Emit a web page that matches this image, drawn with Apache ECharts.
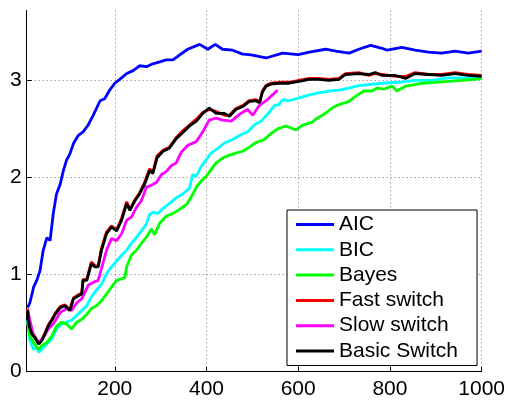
<!DOCTYPE html>
<html>
<head>
<meta charset="utf-8">
<script src="https://cdn.jsdelivr.net/npm/echarts@6/dist/echarts.min.js"></script>
<style>
html,body{margin:0;padding:0;background:#fff;}
#chart{width:508px;height:404px;}
</style>
</head>
<body>
<div id="chart"></div>
<script>
var seriesNames = ['AIC', 'BIC', 'Bayes', 'Fast switch', 'Slow switch', 'Basic Switch'];
var seriesColors = ['#0000ff', '#00ffff', '#00ff00', '#ff0000', '#ff00ff', '#000000'];

var aic = [[10,0.66],[15,0.71],[23,0.87],[30,0.94],[37,1.04],[44,1.25],[52,1.38],[59,1.35],[66,1.63],[73,1.83],[81,1.93],[88,2.07],[95,2.18],[102,2.24],[110,2.35],[120,2.43],[131,2.47],[142,2.54],[153,2.64],[168,2.79],[178,2.81],[189,2.90],[200,2.97],[211,3.01],[226,3.07],[240,3.10],[254,3.15],[269,3.14],[283,3.17],[298,3.19],[312,3.21],[327,3.21],[341,3.26],[359,3.32],[363,3.33],[385,3.37],[403,3.32],[419,3.37],[435,3.32],[457,3.31],[479,3.27],[493,3.265],[500,3.26],[530,3.23],[566,3.28],[600,3.265],[624,3.29],[660,3.32],[682,3.30],[711,3.28],[732,3.32],[758,3.36],[783,3.33],[794,3.31],[826,3.34],[855,3.31],[884,3.29],[913,3.28],[942,3.30],[971,3.28],[1000,3.30]];

var bic = [[10,0.53],[15,0.32],[23,0.23],[30,0.25],[34,0.20],[41,0.23],[52,0.285],[63,0.34],[73,0.44],[84,0.49],[95,0.51],[106,0.53],[117,0.58],[128,0.63],[139,0.68],[149,0.77],[160,0.84],[171,0.90],[182,1.01],[193,1.08],[204,1.14],[215,1.20],[226,1.25],[236,1.32],[247,1.38],[258,1.45],[269,1.52],[276,1.62],[283,1.64],[294,1.63],[305,1.68],[319,1.73],[334,1.79],[348,1.83],[363,1.89],[370,2.03],[378,2.01],[388,2.11],[399,2.18],[410,2.25],[425,2.30],[439,2.355],[457,2.39],[475,2.44],[490,2.47],[504,2.54],[519,2.58],[533,2.65],[548,2.74],[558,2.75],[566,2.80],[580,2.79],[602,2.82],[624,2.85],[645,2.87],[667,2.89],[689,2.90],[710,2.92],[732,2.945],[754,2.955],[783,2.97],[819,2.98],[855,3.00],[891,3.00],[928,3.025],[964,3.025],[1000,3.02]];

var bayes = [[10,0.51],[15,0.37],[23,0.30],[34,0.23],[41,0.27],[52,0.30],[63,0.37],[73,0.47],[84,0.51],[95,0.49],[106,0.44],[117,0.51],[128,0.54],[139,0.59],[149,0.65],[160,0.68],[171,0.73],[182,0.80],[193,0.87],[204,0.94],[215,0.955],[222,0.97],[226,1.08],[236,1.20],[247,1.25],[258,1.32],[269,1.385],[280,1.47],[287,1.41],[298,1.53],[312,1.60],[327,1.63],[341,1.67],[356,1.72],[367,1.80],[378,1.90],[388,1.96],[399,2.01],[410,2.08],[421,2.15],[435,2.20],[450,2.23],[464,2.25],[479,2.27],[493,2.31],[508,2.36],[526,2.39],[540,2.45],[555,2.50],[573,2.53],[595,2.49],[610,2.54],[631,2.57],[638,2.60],[656,2.65],[674,2.715],[689,2.75],[710,2.78],[725,2.835],[743,2.89],[761,2.89],[772,2.92],[787,2.91],[805,2.94],[815,2.89],[834,2.94],[855,2.955],[870,2.97],[899,2.98],[928,2.99],[957,3.00],[985,3.01],[1000,3.02]];

var fastSwitch = [[10,0.65],[14,0.47],[19,0.40],[26,0.36],[34,0.29],[41,0.33],[48,0.40],[55,0.48],[63,0.54],[70,0.60],[81,0.67],[91,0.69],[102,0.64],[110,0.76],[120,0.79],[128,0.81],[131,0.95],[139,0.95],[149,1.13],[157,1.09],[164,1.09],[171,1.27],[182,1.44],[193,1.50],[204,1.46],[215,1.58],[226,1.75],[233,1.67],[244,1.77],[254,1.84],[265,1.95],[276,2.09],[283,2.05],[292,2.22],[305,2.28],[319,2.31],[334,2.41],[348,2.48],[363,2.54],[378,2.60],[392,2.67],[406,2.70],[421,2.68],[439,2.64],[450,2.64],[464,2.71],[479,2.74],[493,2.79],[508,2.80],[516,2.78],[522,2.89],[530,2.95],[540,2.97],[558,2.98],[580,2.98],[602,3.00],[624,3.02],[645,3.02],[667,3.01],[689,3.02],[703,3.07],[732,3.08],[754,3.05],[768,3.07],[783,3.06],[812,3.04],[834,3.04],[855,3.08],[884,3.06],[913,3.06],[942,3.08],[971,3.06],[1000,3.05]];

var slowSwitch = [[10,0.63],[23,0.37],[34,0.30],[44,0.35],[55,0.44],[66,0.49],[81,0.61],[95,0.65],[106,0.63],[117,0.71],[128,0.75],[135,0.82],[142,0.89],[153,0.92],[164,0.94],[171,1.06],[182,1.25],[193,1.37],[204,1.35],[215,1.42],[226,1.56],[236,1.59],[247,1.69],[258,1.76],[269,1.90],[280,1.92],[291,1.95],[302,2.03],[312,2.06],[323,2.12],[334,2.15],[345,2.26],[359,2.33],[378,2.37],[392,2.47],[406,2.59],[421,2.61],[436,2.59],[454,2.58],[472,2.65],[490,2.70],[501,2.64],[515,2.74],[530,2.79],[544,2.85],[555,2.90]];

var basicSwitch = [[10,0.63],[14,0.46],[19,0.39],[26,0.35],[34,0.285],[41,0.32],[48,0.39],[55,0.47],[63,0.53],[70,0.59],[81,0.66],[91,0.68],[102,0.63],[110,0.75],[120,0.78],[128,0.80],[131,0.94],[139,0.94],[149,1.11],[157,1.08],[164,1.08],[171,1.25],[182,1.42],[193,1.49],[204,1.45],[215,1.56],[226,1.73],[233,1.66],[244,1.76],[254,1.83],[265,1.93],[276,2.07],[283,2.04],[292,2.20],[305,2.27],[319,2.30],[334,2.40],[348,2.46],[363,2.53],[378,2.58],[392,2.66],[406,2.715],[421,2.66],[439,2.66],[450,2.63],[464,2.70],[479,2.73],[493,2.78],[508,2.79],[516,2.77],[522,2.88],[530,2.94],[540,2.96],[558,2.97],[580,2.97],[602,2.99],[624,3.01],[645,3.01],[667,3.00],[689,3.01],[703,3.06],[732,3.07],[754,3.06],[768,3.08],[783,3.05],[812,3.05],[834,3.02],[855,3.07],[884,3.06],[913,3.05],[942,3.07],[971,3.05],[1000,3.04]];

var allData = [aic, bic, bayes, fastSwitch, slowSwitch, basicSwitch];

var chart = echarts.init(document.getElementById('chart'), null, {renderer: 'canvas'});
var FONT = '"Liberation Sans", Arial, Helvetica, sans-serif';
var gridLine = {show: true, lineStyle: {color: '#777', width: 1, type: [1, 3]}};

var series = seriesNames.map(function (name, i) {
  return {
    name: name,
    type: 'line',
    data: allData[i],
    showSymbol: false,
    symbol: 'none',
    lineStyle: {color: seriesColors[i], width: 2.8},
    itemStyle: {color: seriesColors[i]},
    emphasis: {disabled: true},
    z: 2 + i
  };
});

chart.setOption({
  animation: false,
  backgroundColor: '#fff',
  grid: {left: 26.7, right: 24.7, top: 10.4, bottom: 32.3, containLabel: false},
  xAxis: {
    type: 'value', min: 8, max: 1000, splitNumber: 5,
    axisLine: {show: true, onZero: false, lineStyle: {color: '#000', width: 1}},
    axisTick: {show: true, inside: true, length: 5, lineStyle: {color: '#000'}},
    axisLabel: {show: true, showMinLabel: false, color: '#000', fontSize: 21, fontFamily: FONT, margin: 7,
      formatter: function (v) { return String(v); }},
    splitLine: gridLine
  },
  yAxis: {
    type: 'value', min: 0, max: 3.72, interval: 1,
    axisLine: {show: true, onZero: false, lineStyle: {color: '#000', width: 1}},
    axisTick: {show: true, inside: true, length: 5, lineStyle: {color: '#000'}},
    axisLabel: {show: true, showMaxLabel: false, color: '#000', fontSize: 21, fontFamily: FONT, margin: 5,
      formatter: function (v) { return String(v); }},
    splitLine: {show: true, showMaxLine: false, lineStyle: {color: '#777', width: 1, type: [1, 3]}}
  },
  legend: {
    show: true,
    orient: 'vertical',
    left: 287, top: 210,
    padding: [3.5, 19, 3.5, 9],
    itemWidth: 38, itemHeight: 3, itemGap: 3.3,
    icon: 'rect',
    backgroundColor: '#fff',
    borderColor: '#000', borderWidth: 1, borderRadius: 0,
    textStyle: {color: '#000', fontSize: 21, fontFamily: FONT, lineHeight: 22},
    data: seriesNames
  },
  series: series
});
</script>
</body>
</html>
